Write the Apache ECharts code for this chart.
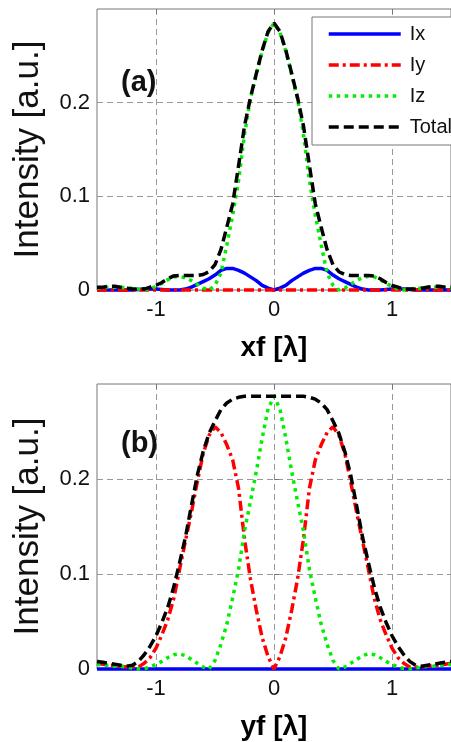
<!DOCTYPE html>
<html>
<head>
<meta charset="utf-8">
<script src="https://cdn.jsdelivr.net/npm/echarts@6/dist/echarts.min.js"></script>
<style>html,body{margin:0;padding:0;background:#fff}#c{width:451px;height:742px}</style>
</head>
<body>
<div id="c"></div>
<script>
// ---------- data ----------
const xf = [-1.5,-1.45,-1.4,-1.35,-1.3,-1.25,-1.2,-1.15,-1.1,-1.05,-1,-0.95,-0.9,-0.85,-0.8,-0.75,-0.7,-0.65,-0.6,-0.55,-0.5,-0.45,-0.4,-0.35,-0.3,-0.25,-0.2,-0.15,-0.1,-0.05,
  0,0.05,0.1,0.15,0.2,0.25,0.3,0.35,0.4,0.45,0.5,0.55,0.6,0.65,0.7,0.75,0.8,0.85,0.9,0.95,1,1.05,1.1,1.15,1.2,1.25,1.3,1.35,1.4,1.45,1.5];
const xTicks = [-1, 0, 1];
const yTicks = [0, 0.1, 0.2];
const legendNames = ['Ix', 'Iy', 'Iz', 'Total'];

// panel (a): along xf
const IxA = [0,0,0,0,0,0,0,0.0005,0.001,0.001,0.001,0.0005,0,0,0,0.001,0.003,0.006,0.009,0.012,0.016,0.021,0.023,0.023,0.021,0.018,0.014,0.010,0.005,0.002,
  0,0.002,0.005,0.010,0.014,0.018,0.021,0.023,0.023,0.021,0.016,0.012,0.009,0.006,0.003,0.001,0,0,0,0.0005,0.001,0.001,0.001,0.0005,0,0,0,0,0,0,0];
const IyA = [0,0,0,0,0,0,0,0,0,0,0,0,0,0,0,0,0,0,0,0,0,0,0,0,0,0,0,0,0,0,
  0,0,0,0,0,0,0,0,0,0,0,0,0,0,0,0,0,0,0,0,0,0,0,0,0,0,0,0,0,0,0];
const IzA = [0.002,0.003,0.003,0.003,0.003,0.002,0.002,0.001,0,0.001,0.004,0.007,0.011,0.014,0.0145,0.013,0.010,0.006,0.002,0,0.005,0.018,0.048,0.080,0.117,0.166,0.204,0.230,0.255,0.275,
  0.285,0.275,0.255,0.230,0.204,0.166,0.117,0.080,0.048,0.018,0.005,0,0.002,0.006,0.010,0.013,0.0145,0.014,0.011,0.007,0.004,0.001,0,0.001,0.002,0.002,0.003,0.003,0.003,0.003,0.002];
const TotalA = [0.003,0.003,0.004,0.004,0.003,0.002,0.001,0.001,0.001,0.003,0.005,0.008,0.012,0.015,0.0155,0.0155,0.0155,0.0155,0.0165,0.0195,0.027,0.043,0.067,0.092,0.133,0.175,0.205,0.231,0.256,0.276,
  0.285,0.276,0.256,0.231,0.205,0.175,0.133,0.092,0.067,0.043,0.027,0.0195,0.0165,0.0155,0.0155,0.0155,0.0155,0.015,0.012,0.008,0.005,0.003,0.001,0.001,0.001,0.002,0.003,0.004,0.004,0.003,0.003];

// panel (b): along yf
const IxB = [0,0,0,0,0,0,0,0,0,0,0,0,0,0,0,0,0,0,0,0,0,0,0,0,0,0,0,0,0,0,
  0,0,0,0,0,0,0,0,0,0,0,0,0,0,0,0,0,0,0,0,0,0,0,0,0,0,0,0,0,0,0];
const IyB = [0.006,0.005,0.004,0.004,0.003,0.002,0.002,0.002,0.006,0.012,0.022,0.036,0.052,0.074,0.105,0.135,0.165,0.197,0.227,0.246,0.255,0.249,0.236,0.220,0.190,0.137,0.095,0.062,0.033,0.013,
  0,0.013,0.033,0.062,0.095,0.137,0.190,0.220,0.236,0.249,0.255,0.246,0.227,0.197,0.165,0.135,0.105,0.074,0.052,0.036,0.022,0.012,0.006,0.002,0.002,0.002,0.003,0.004,0.004,0.005,0.006];
const IzB = [0.005,0.004,0.004,0.003,0.003,0.002,0.001,0,0.0005,0.002,0.005,0.008,0.012,0.015,0.016,0.014,0.010,0.006,0.002,0,0.009,0.026,0.047,0.075,0.105,0.145,0.176,0.208,0.243,0.274,
  0.287,0.274,0.243,0.208,0.176,0.145,0.105,0.075,0.047,0.026,0.009,0,0.002,0.006,0.010,0.014,0.016,0.015,0.012,0.008,0.005,0.002,0.0005,0,0.001,0.002,0.003,0.003,0.004,0.004,0.005];
const TotalB = [0.008,0.007,0.006,0.005,0.004,0.003,0.004,0.008,0.015,0.024,0.035,0.049,0.065,0.086,0.112,0.139,0.172,0.204,0.229,0.248,0.261,0.273,0.280,0.284,0.286,0.287,0.287,0.287,0.287,0.287,
  0.287,0.287,0.287,0.287,0.287,0.287,0.286,0.284,0.280,0.273,0.261,0.248,0.229,0.204,0.172,0.139,0.112,0.086,0.065,0.049,0.035,0.024,0.015,0.008,0.004,0.003,0.004,0.005,0.006,0.007,0.008];

// ---------- styles ----------
const F = "'Liberation Sans', Arial, Helvetica, sans-serif";
const styles = {
  Ix: {color: '#0000ff', type: 'solid', width: 3.5},
  Iy: {color: '#ff0000', type: [10, 4, 3, 4], width: 3.5},
  Iz: {color: '#00ee00', type: [3.5, 4.5], width: 3.5},
  Total: {color: '#000000', type: [10, 5], width: 3.5}
};

function mk(name, ys, g) {
  const s = styles[name];
  return {
    name, type: 'line', xAxisIndex: g * 2, yAxisIndex: g,
    data: xf.map((x, i) => [x, ys[i]]),
    symbol: 'none', showSymbol: false, clip: false, animation: false, smooth: false,
    lineStyle: {color: s.color, width: s.width, type: s.type},
    itemStyle: {color: s.color}
  };
}

function xAxes(g, name) {
  return [{
    type: 'value', gridIndex: g, min: -1.5, max: 1.5, position: 'bottom',
    name, nameLocation: 'middle', nameGap: 44,
    nameTextStyle: {fontSize: 28, fontWeight: 'bold', color: '#000', fontFamily: F},
    axisLine: {show: false},
    axisTick: {show: true, inside: true, length: 5, lineStyle: {color: '#777'}, customValues: xTicks},
    axisLabel: {customValues: xTicks, fontSize: 22, color: '#111', margin: 9, fontFamily: F},
    splitLine: {show: true, lineStyle: {color: '#999', type: [6, 4], width: 1}}
  }, {
    type: 'value', gridIndex: g, min: -1.5, max: 1.5, position: 'top',
    axisLine: {show: false},
    axisTick: {show: true, inside: true, length: 5, lineStyle: {color: '#777'}, customValues: xTicks},
    axisLabel: {show: false}, splitLine: {show: false}
  }];
}

function yAxis(g) {
  return {
    type: 'value', gridIndex: g, min: 0, max: 0.3,
    name: 'Intensity [a.u.]', nameLocation: 'middle', nameGap: 51,
    nameTextStyle: {fontSize: 35, color: '#111', fontFamily: F},
    axisLine: {show: false},
    axisTick: {show: true, inside: true, length: 5, lineStyle: {color: '#777'}, customValues: yTicks},
    axisLabel: {customValues: yTicks, fontSize: 22, color: '#111', margin: 7, fontFamily: F},
    splitLine: {show: true, lineStyle: {color: '#999', type: [6, 4], width: 1}}
  };
}

const chart = echarts.init(document.getElementById('c'), null, {renderer: 'canvas'});
chart.setOption({
  animation: false,
  backgroundColor: '#fff',
  grid: [
    {left: 97, right: -8, top: 9, height: 281, show: true, borderColor: '#777', borderWidth: 1, backgroundColor: 'transparent'},
    {left: 97, right: -8, top: 384, height: 286, show: true, borderColor: '#777', borderWidth: 1, backgroundColor: 'transparent'}
  ],
  xAxis: [...xAxes(0, 'xf [λ]'), ...xAxes(1, 'yf [λ]')],
  yAxis: [yAxis(0), yAxis(1)],
  title: [
    {text: '(a)', left: 121, top: 68, padding: 0, textStyle: {fontSize: 29, fontWeight: 'bold', color: '#111', fontFamily: F}},
    {text: '(b)', left: 121, top: 429, padding: 0, textStyle: {fontSize: 29, fontWeight: 'bold', color: '#111', fontFamily: F}}
  ],
  legend: {
    data: legendNames, orient: 'vertical', left: 312, top: 17,
    itemWidth: 72, itemHeight: 20, itemGap: 11,
    padding: [7, 40, 8, 15],
    backgroundColor: '#fff', borderColor: '#777', borderWidth: 1, borderRadius: 0,
    selectedMode: false,
    itemStyle: {opacity: 0, borderWidth: 0},
    lineStyle: {width: 3.5},
    textStyle: {fontSize: 20, color: '#111', fontFamily: F, lineHeight: 20, padding: [0, 0, 0, 4]}
  },
  series: [
    mk('Ix', IxA, 0), mk('Iy', IyA, 0), mk('Iz', IzA, 0), mk('Total', TotalA, 0),
    mk('Ix', IxB, 1), mk('Iy', IyB, 1), mk('Iz', IzB, 1), mk('Total', TotalB, 1)
  ]
});
</script>
</body>
</html>
